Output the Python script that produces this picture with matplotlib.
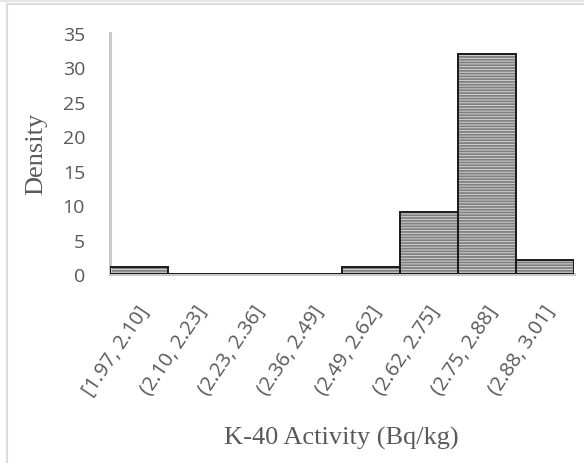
import matplotlib.pyplot as plt
import matplotlib.transforms as mtransforms
from matplotlib.patches import Rectangle
import numpy as np

bins = ['[1.97, 2.10]', '(2.10, 2.23]', '(2.23, 2.36]', '(2.36, 2.49]',
        '(2.49, 2.62]', '(2.62, 2.75]', '(2.75, 2.88]', '(2.88, 3.01]']
density = [1, 0, 0, 0, 1, 9, 32, 2]

plt.rcParams['hatch.linewidth'] = 1.3

fig = plt.figure(figsize=(5.84, 4.64), dpi=100)
fig.patch.set_facecolor('white')

# light frame like the screenshot
fig.patches.append(Rectangle((0, 1 - 3 / 464), 1, 3 / 464, transform=fig.transFigure,
                             facecolor='#e6e6e6', edgecolor='none'))
fig.lines.append(plt.Line2D([6.5 / 584, 6.5 / 584], [0, 1 - 4.5 / 464], transform=fig.transFigure,
                            color='#dcdcdc', lw=1.5))
fig.lines.append(plt.Line2D([6.5 / 584, 1], [1 - 4.5 / 464, 1 - 4.5 / 464], transform=fig.transFigure,
                            color='#dcdcdc', lw=1.5))

ax = fig.add_axes([110 / 584, 1 - 275 / 464, (574 - 110) / 584, (275 - 34) / 464])

x = np.arange(len(bins))
ax.bar(x, density, width=1.0, color='#d2d2d2', edgecolor='#808080', linewidth=0,
       hatch='------', zorder=2)
ax.bar(x, density, width=1.0, fill=False, edgecolor='#1a1a1a', linewidth=1.4, zorder=3)

ax.set_xlim(-0.5, len(bins) - 0.5)
ax.set_ylim(0, 35)
ax.set_yticks(range(0, 36, 5))
ax.set_xticks(x)
ax.set_xticklabels(bins, rotation=56, ha='right', va='center', rotation_mode='anchor')

for s in ['top', 'right']:
    ax.spines[s].set_visible(False)
ax.spines['left'].set_color('#c8c8c8')
ax.spines['left'].set_linewidth(2.2)
ax.spines['bottom'].set_color('#c8c8c8')
ax.spines['bottom'].set_linewidth(2.2)
ax.spines['bottom'].set_zorder(1)

ax.tick_params(length=0, labelcolor='#595959', labelsize=14)
ax.tick_params(axis='x', labelsize=14.5)
ax.tick_params(axis='y', pad=18)
ax.tick_params(axis='x', pad=24)
shift = mtransforms.ScaledTranslation(6 / 100, 0, fig.dpi_scale_trans)
for t in ax.get_xticklabels():
    t.set_transform(t.get_transform() + shift)
for t in ax.get_xticklabels() + ax.get_yticklabels():
    t.set_fontfamily('Open Sans')

fig.text(36 / 584, 1 - 154 / 464, 'Density', family='Liberation Serif', fontsize=19,
         color='#595959', ha='center', va='center', rotation=90)
fig.text(341 / 584, 1 - 438 / 464, 'K-40 Activity (Bq/kg)', family='Liberation Serif',
         fontsize=19, color='#595959', ha='center', va='center')

fig.savefig('out.png', dpi=100)
